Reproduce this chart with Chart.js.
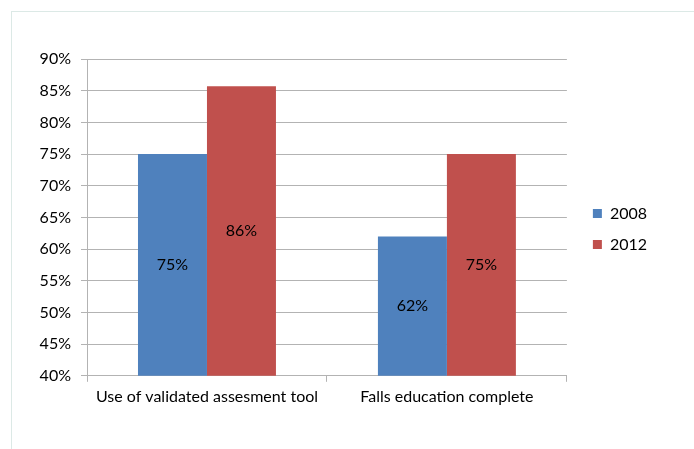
<!DOCTYPE html>
<html>
<head>
<meta charset="utf-8">
<script src="https://cdn.jsdelivr.net/npm/chart.js@4"></script>
<style>
  html, body { margin: 0; padding: 0; background: #fff; }
  #wrap { position: relative; width: 694px; height: 449px; }
  #frame { position: absolute; left: 11px; top: 11px; right: 0; bottom: 0; border-left: 1px solid #dce9e6; border-top: 1px solid #dce9e6; }
  canvas { position: absolute; left: 0; top: 0; }
</style>
</head>
<body>
<div id="wrap">
  <div id="frame"></div>
  <canvas id="myChart" width="694" height="449"></canvas>
</div>
<script>
const categories = ['Use of validated assesment tool', 'Falls education complete'];
const values2008 = [75, 62];
const values2012 = [85.7, 75];
const seriesNames = ['2008', '2012'];

const fontFamily = 'Lato, "Open Sans", sans-serif';
const fontSize = 16;

// draws the value label in the middle of each bar
const barLabels = {
  id: 'barLabels',
  afterDatasetsDraw(chart) {
    const c = chart.ctx;
    const bottom = chart.chartArea.bottom;
    c.save();
    c.font = fontSize + 'px ' + fontFamily;
    c.fillStyle = '#000';
    c.textAlign = 'center';
    c.textBaseline = 'middle';
    chart.data.datasets.forEach((ds, i) => {
      chart.getDatasetMeta(i).data.forEach((bar, j) => {
        const mid = (bar.y + Math.min(bar.base, bottom)) / 2;
        c.fillText(Math.round(ds.data[j]) + '%', bar.x, mid);
      });
    });
    c.restore();
  }
};

// nudge the legend a bit further right, like the excel one
const legendShift = {
  id: 'legendShift',
  afterInit(chart) {
    const lg = chart.legend;
    if (!lg) return;
    const orig = lg.draw;
    lg.draw = function () {
      const c = chart.ctx;
      c.save();
      c.translate(11, -6);
      orig.apply(this, arguments);
      c.restore();
    };
  }
};

const ctx = document.getElementById('myChart');
new Chart(ctx, {
  type: 'bar',
  data: {
    labels: categories,
    datasets: [
      { label: seriesNames[0], data: values2008, backgroundColor: '#4f81bd' },
      { label: seriesNames[1], data: values2012, backgroundColor: '#c0504d' }
    ]
  },
  options: {
    responsive: false,
    animation: false,
    layout: { padding: { left: 20, top: 59, right: 48, bottom: 38 } },
    datasets: { bar: { categoryPercentage: 0.575, barPercentage: 1 } },
    scales: {
      x: {
        offset: true,
        grid: { offset: true, drawOnChartArea: false, color: '#b3b3b3', tickLength: 6 },
        border: { color: '#b3b3b3' },
        ticks: { color: '#000', font: { family: fontFamily, size: fontSize }, padding: 5 }
      },
      y: {
        min: 40, max: 90,
        afterFit(scale) { scale.width = 67; },
        grid: { color: '#b3b3b3', tickLength: 6 },
        border: { color: '#b3b3b3' },
        ticks: { stepSize: 5, color: '#000', padding: 10, font: { family: fontFamily, size: fontSize },
          callback: v => v + '%' }
      }
    },
    plugins: {
      legend: {
        position: 'right',
        labels: { boxWidth: 9, boxHeight: 9, padding: 15, color: '#000',
          font: { family: fontFamily, size: fontSize } }
      },
      tooltip: { enabled: false }
    }
  },
  plugins: [barLabels, legendShift]
});
</script>
</body>
</html>
